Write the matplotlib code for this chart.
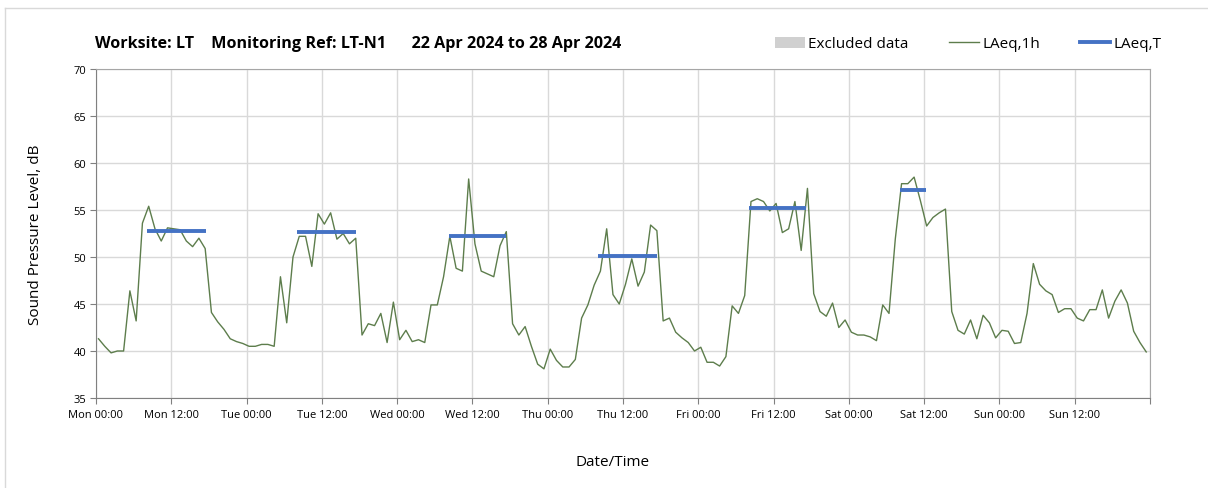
"""騒音モニタリング週次チャート (LAeq,1h / LAeq,T)"""

import matplotlib
matplotlib.use('Agg')
import matplotlib.pyplot as plt
from matplotlib.lines import Line2D
from matplotlib.patches import Patch
import numpy as np

plt.rcParams['font.family'] = ['Open Sans', 'DejaVu Sans']

# 1時間ごとのLAeq (Mon 00:00 から 168時間)
laeq_1h = [
    41.3, 40.5, 39.8, 40.0, 40.0, 46.4, 43.2, 53.6, 55.4, 53.0, 51.7, 53.1,
    53.0, 52.9, 51.7, 51.1, 52.0, 50.9, 44.1, 43.1, 42.3, 41.3, 41.0, 40.8,
    40.5, 40.5, 40.7, 40.7, 40.5, 47.9, 43.0, 50.0, 52.2, 52.2, 49.0, 54.6,
    53.5, 54.7, 51.9, 52.5, 51.4, 52.0, 41.7, 42.9, 42.7, 44.0, 40.9, 45.2,
    41.2, 42.2, 41.0, 41.2, 40.9, 44.9, 44.9, 47.9, 52.2, 48.8, 48.5, 58.3,
    51.4, 48.5, 48.2, 47.9, 51.2, 52.7, 42.9, 41.7, 42.6, 40.5, 38.6, 38.1,
    40.2, 39.0, 38.3, 38.3, 39.1, 43.5, 44.9, 47.0, 48.5, 53.0, 46.0, 45.0,
    47.1, 49.8, 46.9, 48.4, 53.4, 52.8, 43.2, 43.5, 42.0, 41.4, 40.9, 40.0,
    40.4, 38.8, 38.8, 38.4, 39.4, 44.8, 44.0, 45.9, 55.9, 56.2, 55.9, 54.9,
    55.7, 52.6, 53.0, 55.9, 50.7, 57.3, 46.1, 44.2, 43.7, 45.1, 42.5, 43.3,
    42.0, 41.7, 41.7, 41.5, 41.1, 44.9, 44.0, 51.9, 57.8, 57.8, 58.5, 56.0,
    53.3, 54.2, 54.7, 55.1, 44.2, 42.2, 41.8, 43.3, 41.3, 43.8, 43.0, 41.4,
    42.2, 42.1, 40.8, 40.9, 44.0, 49.3, 47.1, 46.4, 46.0, 44.1, 44.5, 44.5,
    43.5, 43.2, 44.4, 44.4, 46.5, 43.5, 45.3, 46.5, 45.1, 42.1, 40.9, 39.9,
]

# LAeq,T (昼間評価期間) 開始・終了時刻 [h] とレベル
laeqT_start = [8.1, 32.1, 56.2, 80.0, 104.1, 128.1]
laeqT_end = [17.6, 41.4, 65.4, 89.4, 113.2, 132.3]
laeqT_level = [52.8, 52.7, 52.2, 50.1, 55.2, 57.1]

tick_labels = ['Mon 00:00', 'Mon 12:00', 'Tue 00:00', 'Tue 12:00', 'Wed 00:00',
               'Wed 12:00', 'Thu 00:00', 'Thu 12:00', 'Fri 00:00', 'Fri 12:00',
               'Sat 00:00', 'Sat 12:00', 'Sun 00:00', 'Sun 12:00', '']

title = 'Worksite: LT    Monitoring Ref: LT-N1      22 Apr 2024 to 28 Apr 2024'

GREEN = '#5d7d4c'
BLUE = '#4472c4'

hours = np.arange(len(laeq_1h)) + 0.4

fig = plt.figure(figsize=(12.08, 4.89), dpi=100)
ax = fig.add_axes([96 / 1208, 90 / 489, 1054 / 1208, 329 / 489])

ax.plot(hours, laeq_1h, color=GREEN, linewidth=1.0, zorder=3)
ax.hlines(laeqT_level, laeqT_start, laeqT_end, color=BLUE, linewidth=2.8, zorder=4)

ax.set_xlim(0, 168)
ax.set_ylim(35, 70)
ax.set_xticks(np.arange(0, 169, 12))
ax.set_xticklabels(tick_labels, fontsize=8)
ax.set_yticks(np.arange(35, 71, 5))
ax.tick_params(axis='y', labelsize=8, length=4, color='#808080', pad=3)
ax.tick_params(axis='x', length=4, color='#808080', pad=4)
ax.grid(True, color='#d9d9d9', linewidth=1.0, zorder=0)

for side in ['left', 'bottom']:
    ax.spines[side].set_color('#808080')
for side in ['top', 'right']:
    ax.spines[side].set_color('#a6a6a6')

ax.set_ylabel('Sound Pressure Level, dB', fontsize=11, labelpad=22)
ax.set_xlabel('Date/Time', fontsize=11, labelpad=22)
ax.xaxis.set_label_coords(0.49, -0.17)

fig.text(95 / 1208, 1 - 48 / 489, title, fontsize=11.6, fontweight='bold')

handles = [Patch(facecolor='#d0d0d0', edgecolor='none'),
           Line2D([], [], color=GREEN, linewidth=1.0),
           Line2D([], [], color=BLUE, linewidth=2.8)]
fig.legend(handles, ['Excluded data', 'LAeq,1h', 'LAeq,T'], ncol=3, frameon=False,
           loc='center', bbox_to_anchor=(968 / 1208, 1 - 45 / 489), fontsize=11,
           handlelength=2.0, handletextpad=0.2, columnspacing=2.6)

# 外枠 (左・上の薄いライン)
fig.add_artist(Line2D([5 / 1208, 5 / 1208], [0, 1 - 9 / 489], color='#d9d9d9', linewidth=1))
fig.add_artist(Line2D([5 / 1208, 1], [1 - 9 / 489, 1 - 9 / 489], color='#d9d9d9', linewidth=1))

fig.savefig('out.png', dpi=100)
